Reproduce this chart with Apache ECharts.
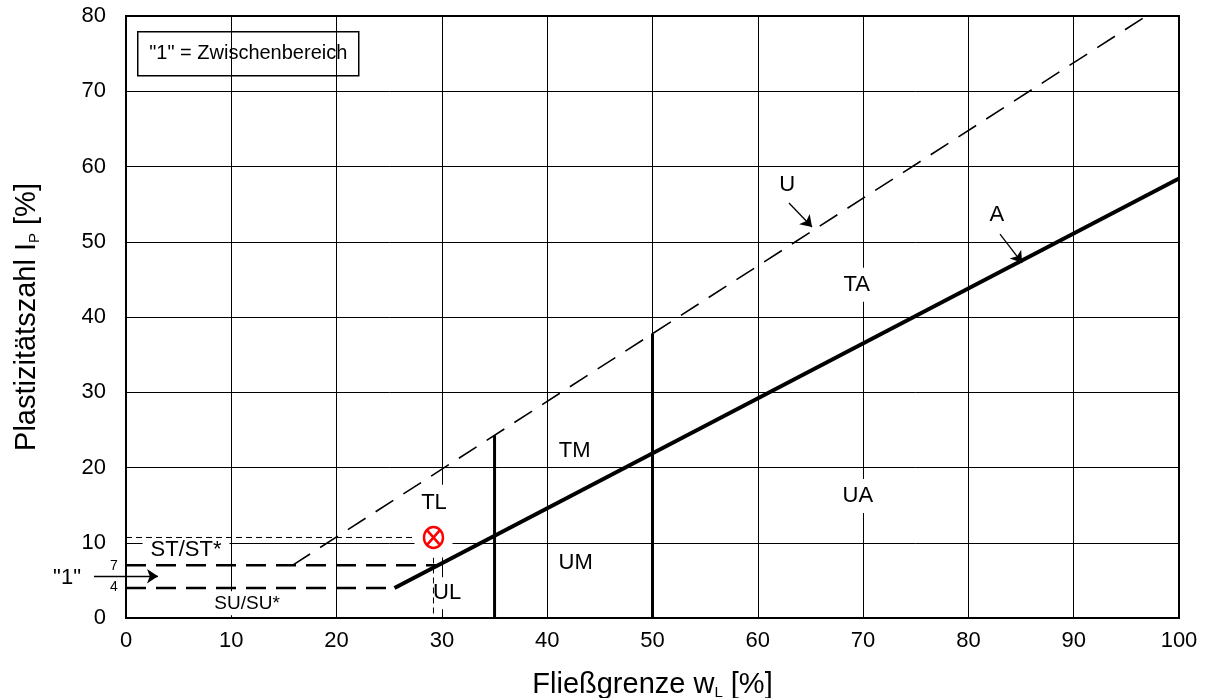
<!DOCTYPE html>
<html><head><meta charset="utf-8">
<script src="https://cdn.jsdelivr.net/npm/echarts@6/dist/echarts.min.js"></script>
<style>html,body{margin:0;padding:0;background:#fff}#c{width:1208px;height:698px}</style>
</head><body><div id="c"></div>
<script>
// ---- data ----
const xRange = [0, 100];          // Fließgrenze wL [%]
const yRange = [0, 80];           // Plastizitätszahl Ip [%]
const xTickStep = 10;
const yTickStep = 10;
const aLine = [[25.5, 4], [100, 58.4]];           // A-Linie
const uLine = [[15.8, 7], [96.9, 80]];            // U-Linie
const wall35 = [[35, 0], [35, 24.3]];
const wall50 = [[50, 0], [50, 37.8]];
const band7 = [[0, 7], [29.6, 7]];
const band4 = [[0, 4], [25.5, 4]];
const sample = [29.2, 10.7];                       // Probe
const guideH = [[0, 10.7], [29.2, 10.7]];
const guideV = [[29.2, 10.7], [29.2, 0]];
const regionNames = ['TA', 'UA', 'TM', 'UM', 'TL', 'UL', 'ST/ST*', 'SU/SU*', 'U', 'A'];
const regionPos = [[69.4, 44.3], [69.5, 16.2], [42.6, 22.2], [42.7, 7.3], [29.25, 15.3], [30.5, 3.3], [5.7, 9.0], [11.5, 1.95], [62.8, 57.5], [82.7, 53.6]];
const arrowU = [[62.96, 55.15], [65.15, 51.96]];
const arrowA = [[83.0, 51.0], [85.1, 47.2]];
const zoneArrow = [[-3.04, 5.55], [3.04, 5.55]];
const sideNames = ['"1"', '7', '4'];
const sidePos = [[-5.6, 5.3], [-1.14, 6.95], [-1.14, 4.1]];
const legendText = '"1" = Zwischenbereich';

// ---- styles ----
const FONT = 'Liberation Sans, Arial, sans-serif';
const regionStyle = {
  'TA': {fontSize: 22, padding: [6, 5]},
  'UA': {fontSize: 22, padding: [6, 5]},
  'TM': {fontSize: 22, padding: [4, 4]},
  'UM': {fontSize: 22, padding: [4, 4]},
  'TL': {fontSize: 22, padding: [7, 6]},
  'UL': {fontSize: 22, padding: [5, 3]},
  'ST/ST*': {fontSize: 22, padding: [6, 8]},
  'SU/SU*': {fontSize: 19, padding: [4, 9, 1, 9]},
  'U': {fontSize: 22, padding: [2, 2]},
  'A': {fontSize: 22, padding: [2, 2]}
};
const sideStyle = {'"1"': 22, '7': 14, '4': 14};

function lineSeries(data, width, dash, z) {
  return {
    type: 'line', data: data, showSymbol: false, symbol: 'none', z: z, silent: true,
    lineStyle: {color: '#000', width: width, type: dash || 'solid', cap: 'butt'}
  };
}

const chart = echarts.init(document.getElementById('c'), null, {renderer: 'canvas'});
chart.setOption({
  animation: false,
  backgroundColor: '#fff',
  textStyle: {fontFamily: FONT},
  grid: {left: 126, top: 16, width: 1053, height: 602, outerBoundsMode: 'none', containLabel: false,
    show: true, borderColor: '#000', borderWidth: 2, backgroundColor: '#fff'},
  xAxis: {
    type: 'value', min: xRange[0], max: xRange[1], interval: xTickStep,
    axisLine: {show: true, lineStyle: {color: '#000', width: 2}},
    axisTick: {show: false},
    axisLabel: {color: '#000', fontSize: 22, margin: 12, fontFamily: FONT},
    splitLine: {show: true, lineStyle: {color: '#000', width: 1}},
    name: 'Fließgrenze w{sub|L} [%]', nameLocation: 'middle', nameGap: 51,
    nameTextStyle: {color: '#000', fontSize: 29, fontFamily: FONT,
      rich: {sub: {fontSize: 15, padding: [16, 0, 0, 0], fontFamily: FONT, color: '#000'}}}
  },
  yAxis: {
    type: 'value', min: yRange[0], max: yRange[1], interval: yTickStep,
    axisLine: {show: true, lineStyle: {color: '#000', width: 2}},
    axisTick: {show: false},
    axisLabel: {color: '#000', fontSize: 22, margin: 20, fontFamily: FONT},
    splitLine: {show: true, lineStyle: {color: '#000', width: 1}},
    name: 'Plastizitätszahl I{sub|P} [%]', nameLocation: 'middle', nameGap: 84,
    nameTextStyle: {color: '#000', fontSize: 29, fontFamily: FONT,
      rich: {sub: {fontSize: 15, padding: [16, 0, 0, 0], fontFamily: FONT, color: '#000'}}}
  },
  series: [
    // region labels with white boxes (above grid, below lines)
    {
      type: 'scatter', z: 1, silent: true, symbolSize: 0, itemStyle: {opacity: 1},
      data: regionNames.map((n, i) => ({name: n, value: regionPos[i],
        label: {fontSize: regionStyle[n].fontSize, lineHeight: regionStyle[n].fontSize, padding: regionStyle[n].padding}})),
      label: {show: true, position: 'inside', formatter: p => p.name, color: '#000', opacity: 1,
        fontFamily: FONT, backgroundColor: '#fff'}
    },
    // thin guide lines to the sample
    lineSeries(guideH, 1, [6, 4], 2),
    lineSeries(guideV, 1, [6, 4], 2),
    // white box around the sample
    {type: 'scatter', z: 3, silent: true, symbol: 'rect', symbolSize: [38, 40],
      itemStyle: {color: '#fff', opacity: 1}, data: [sample]},
    // main lines
    lineSeries(uLine, 1.6, [21, 12], 4),
    lineSeries(aLine, 4, 'solid', 4),
    lineSeries(wall35, 3, 'solid', 4),
    lineSeries(wall50, 3, 'solid', 4),
    lineSeries(band7, 2.5, [20, 10], 4),
    lineSeries(band4, 2.5, [20, 10], 4),
    // arrows
    {
      type: 'lines', coordinateSystem: 'cartesian2d', z: 4, silent: true, clip: false,
      symbol: ['none', 'arrow'], symbolSize: 11,
      lineStyle: {color: '#000', width: 1.3, opacity: 1},
      data: [{coords: arrowU}, {coords: arrowA}, {coords: zoneArrow}]
    },
    // side annotations outside plot
    {
      type: 'scatter', z: 4, silent: true, symbolSize: 0, clip: false, itemStyle: {opacity: 1},
      data: sideNames.map((n, i) => ({name: n, value: sidePos[i], label: {fontSize: sideStyle[n]}})),
      label: {show: true, position: 'inside', formatter: p => p.name, color: '#000', opacity: 1, fontFamily: FONT}
    },
    // sample marker
    {type: 'scatter', z: 5, silent: true, symbol: 'circle', symbolSize: [19, 21],
      itemStyle: {color: 'transparent', borderColor: '#ff0000', borderWidth: 2.5, opacity: 1}, data: [sample]},
    {type: 'scatter', z: 5, silent: true, symbol: 'path://M0 0L10 10M10 0L0 10', symbolSize: [14, 16],
      itemStyle: {color: 'transparent', borderColor: '#ff0000', borderWidth: 2.5, opacity: 1}, data: [sample]}
  ],
  graphic: [{
    type: 'group', left: 137, top: 31, z: 100,
    children: [
      {type: 'rect', shape: {x: 0, y: 0, width: 221, height: 44}, style: {fill: '#fff', stroke: '#000', lineWidth: 1.5}},
      {type: 'text', style: {text: legendText, x: 110.5, y: 22, align: 'center', verticalAlign: 'middle',
        font: '20px Liberation Sans', fill: '#000'}}
    ]
  }]
});
</script></body></html>
